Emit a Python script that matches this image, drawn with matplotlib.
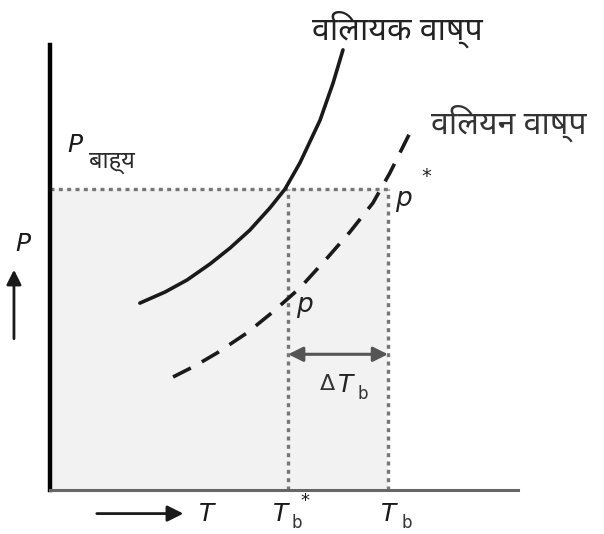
import matplotlib
matplotlib.use('Agg')
import matplotlib.pyplot as plt
from matplotlib.patches import Rectangle

# values (T and P in arbitrary units, 0-100)
solvent_T = [19.2, 24.6, 29.3, 34.2, 38.5, 42.7, 47.0, 50.2, 53.4, 57.7, 60.5, 62.6]
solvent_P = [42.0, 44.5, 47.2, 50.8, 54.4, 58.4, 63.4, 67.6, 73.5, 83.1, 91.5, 98.9]

solution_T = [26.3, 31.0, 35.7, 42.1, 47.6, 53.4, 59.2, 64.1, 69.0, 72.6, 77.4]
solution_P = [25.4, 27.9, 30.8, 35.3, 40.0, 45.4, 52.1, 58.0, 64.5, 71.2, 81.3]

P_ext = 67.6
Tb_star = 50.9
Tb = 72.2

deva = ['Noto Sans Devanagari', 'DejaVu Sans']

fig = plt.figure(figsize=(6.04, 5.34), dpi=100)
ax = fig.add_axes([50/604, 44/534, 468/604, 445/534])
ax.set_xlim(0, 100)
ax.set_ylim(0, 100)
ax.set_xticks([])
ax.set_yticks([])
for s in ['top', 'right']:
    ax.spines[s].set_visible(False)
ax.spines['left'].set_linewidth(3.2)
ax.spines['left'].set_color('black')
ax.spines['bottom'].set_linewidth(2.2)
ax.spines['bottom'].set_color('#666666')

# shaded region below external pressure
ax.add_patch(Rectangle((0, 0), Tb, P_ext, facecolor='#f2f2f2', edgecolor='none', zorder=0))

dot = dict(color='#777777', lw=2.4, ls=(0, (1.2, 1.3)))
ax.plot([0, Tb], [P_ext, P_ext], **dot)
ax.plot([Tb_star, Tb_star], [0, P_ext], **dot)
ax.plot([Tb, Tb], [0, P_ext], **dot)

ax.plot(solvent_T, solvent_P, color='#1a1a1a', lw=2.6, solid_capstyle='round',
        solid_joinstyle='round')
ax.plot(solution_T, solution_P, color='#1a1a1a', lw=2.6, ls=(0, (5.5, 3.5)))

# delta T arrow
ax.annotate('', xy=(Tb_star, 30.5), xytext=(Tb, 30.5),
            arrowprops=dict(arrowstyle='<|-|>', color='#555555', lw=2.2,
                            mutation_scale=22, shrinkA=0, shrinkB=0))

# labels
ax.text(56, 103.5, 'विलायक वाष्प', family=deva, fontsize=23, fontweight='bold',
        ha='left', va='center', color='#222222', clip_on=False)
ax.text(81.5, 82.5, 'विलयन वाष्प', family=deva, fontsize=23, fontweight='bold',
        ha='left', va='center', color='#333333', clip_on=False)
ax.text(3.7, 77.5, 'P', fontsize=18, style='italic', ha='left', va='center', color='#1a1a1a')
ax.text(8.3, 73.8, 'बाह्य', family=deva, fontsize=17, fontweight='bold',
        ha='left', va='center', color='#2a2a2a')
ax.text(73.8, 65.5, 'p', fontsize=19, style='italic', ha='left', va='center', color='#222222')
ax.text(79.3, 70.5, '*', fontsize=14, ha='left', va='center', color='#222222')
ax.text(52.6, 41.5, 'p', fontsize=19, style='italic', ha='left', va='center', color='#222222')
ax.text(57.6, 23.8, 'Δ', fontsize=16, ha='left', va='center', color='#333333')
ax.text(61.6, 23.5, 'T', fontsize=18, style='italic', ha='left', va='center', color='#222222')
ax.text(65.6, 21.5, 'b', fontsize=12, ha='left', va='center', color='#333333')

# bottom labels
ax.text(33.5, -5.5, 'T', fontsize=18, style='italic', ha='center', va='center',
        color='#1a1a1a', clip_on=False)
ax.text(49.3, -5.5, 'T', fontsize=18, style='italic', ha='center', va='center',
        color='#1a1a1a', clip_on=False)
ax.text(52.8, -7.5, 'b', fontsize=12, ha='center', va='center', color='#333333', clip_on=False)
ax.text(54.5, -2.5, '*', fontsize=13, ha='center', va='center', color='#1a1a1a', clip_on=False)
ax.text(72.3, -5.5, 'T', fontsize=18, style='italic', ha='center', va='center',
        color='#1a1a1a', clip_on=False)
ax.text(76.2, -7.5, 'b', fontsize=12, ha='center', va='center', color='#333333', clip_on=False)
ax.annotate('', xy=(28.5, -5.3), xytext=(10, -5.3), xycoords='data',
            arrowprops=dict(arrowstyle='-|>', color='#1a1a1a', lw=2.0,
                            mutation_scale=24, shrinkA=0, shrinkB=0),
            annotation_clip=False)

# left P with upward arrow
ax.text(-5.8, 55.2, 'P', fontsize=18, style='italic', ha='center', va='center',
        color='#1a1a1a', clip_on=False)
ax.annotate('', xy=(-7.7, 49.5), xytext=(-7.7, 34), xycoords='data',
            arrowprops=dict(arrowstyle='-|>', color='#1a1a1a', lw=2.0,
                            mutation_scale=22, shrinkA=0, shrinkB=0),
            annotation_clip=False)

fig.savefig('out.png', dpi=100)
